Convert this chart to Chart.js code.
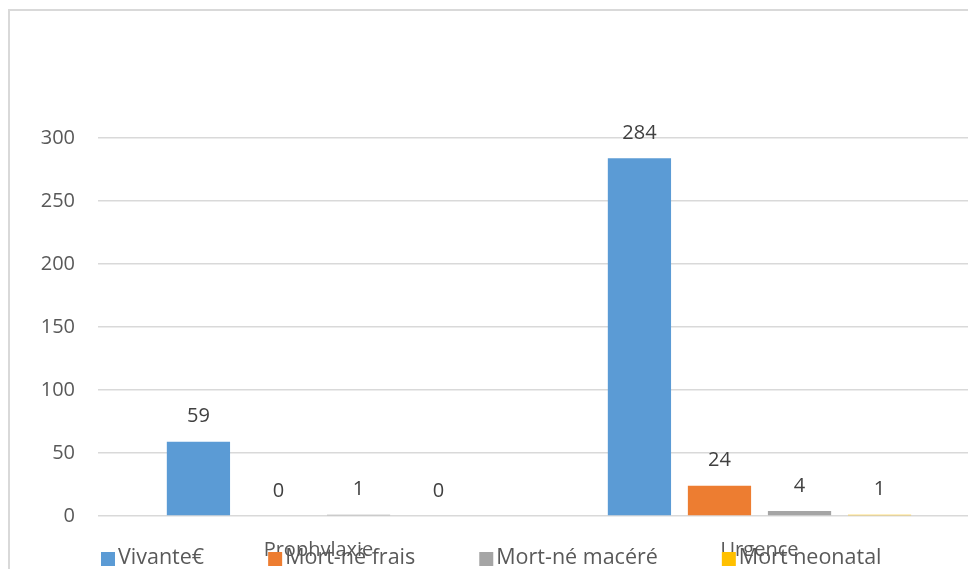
<!DOCTYPE html>
<html>
<head>
<meta charset="utf-8">
<script src="https://cdn.jsdelivr.net/npm/chart.js@4.4.1/dist/chart.umd.min.js"></script>
<style>
  html, body { margin: 0; padding: 0; background: #fff; overflow: hidden; }
  #frame {
    position: absolute; left: 8px; top: 9px;
    width: 992px; height: 582px;
    border: 2px solid #d9d9d9; box-sizing: border-box;
  }
</style>
</head>
<body>
<div id="frame"><canvas id="birthChart"></canvas></div>
<script>
// Categories and series
const categories = ['Prophylaxie', 'Urgence'];
const seriesNames = ['Vivante€', 'Mort-né frais', 'Mort-né macéré', 'Mort neonatal'];
const vivante = [59, 284];
const mortNeFrais = [0, 24];
const mortNeMacere = [1, 4];
const mortNeonatal = [0, 1];
const yTicks = [0, 50, 100, 150, 200, 250, 300];

const seriesColors = ['#5B9BD5', '#ED7D31', '#A5A5A5', '#FFC000'];
const FONT = '"Open Sans", "DejaVu Sans", sans-serif';

// Value labels drawn above each bar
const valueLabels = {
    id: 'valueLabels',
    afterDatasetsDraw(chart) {
        const ctx = chart.ctx;
        ctx.save();
        ctx.font = '20px ' + FONT;
        ctx.fillStyle = '#404040';
        ctx.textAlign = 'center';
        ctx.textBaseline = 'middle';
        chart.data.datasets.forEach((ds, i) => {
            chart.getDatasetMeta(i).data.forEach((bar, j) => {
                ctx.fillText(String(ds.data[j]), bar.x, bar.y - 25);
            });
        });
        ctx.restore();
    }
};

// Legend row along the bottom, drawn over the category labels
const bottomLegend = {
    id: 'bottomLegend',
    afterDraw(chart) {
        const ctx = chart.ctx;
        const area = chart.chartArea;
        const y = area.bottom + 42;
        let x = area.left + 3;
        ctx.save();
        ctx.font = '21.5px ' + FONT;
        ctx.textBaseline = 'middle';
        ctx.textAlign = 'left';
        chart.data.datasets.forEach(ds => {
            ctx.fillStyle = ds.backgroundColor;
            ctx.fillRect(x, y - 6, 14, 14);
            ctx.fillStyle = '#595959';
            ctx.fillText(ds.label, x + 17, y);
            x += 17 + ctx.measureText(ds.label).width + 64;
        });
        ctx.restore();
    }
};

const seriesData = [vivante, mortNeFrais, mortNeMacere, mortNeonatal];

new Chart(document.getElementById('birthChart'), {
    type: 'bar',
    data: {
        labels: categories,
        datasets: seriesNames.map((name, i) => ({
            label: name,
            data: seriesData[i],
            backgroundColor: seriesColors[i],
            borderWidth: 0,
            categoryPercentage: 0.726,
            barPercentage: 0.79
        }))
    },
    options: {
        responsive: true,
        maintainAspectRatio: false,
        animation: false,
        layout: { padding: { top: 127, right: 18, bottom: 33, left: 0 } },
        plugins: {
            legend: { display: false },
            tooltip: { enabled: false }
        },
        scales: {
            x: {
                grid: { display: false },
                border: { display: false },
                ticks: { color: '#595959', font: { family: FONT, size: 20 }, padding: 14 },
                afterFit(scale) { scale.height = 40; }
            },
            y: {
                min: 0,
                max: 300,
                afterBuildTicks(scale) { scale.ticks = yTicks.map(v => ({ value: v })); },
                grid: { color: '#d9d9d9', lineWidth: 1.5, drawTicks: false },
                border: { display: false },
                ticks: { color: '#595959', font: { family: FONT, size: 20 }, padding: 23 },
                afterFit(scale) { scale.width = 88; }
            }
        }
    },
    plugins: [valueLabels, bottomLegend]
});
</script>
</body>
</html>
